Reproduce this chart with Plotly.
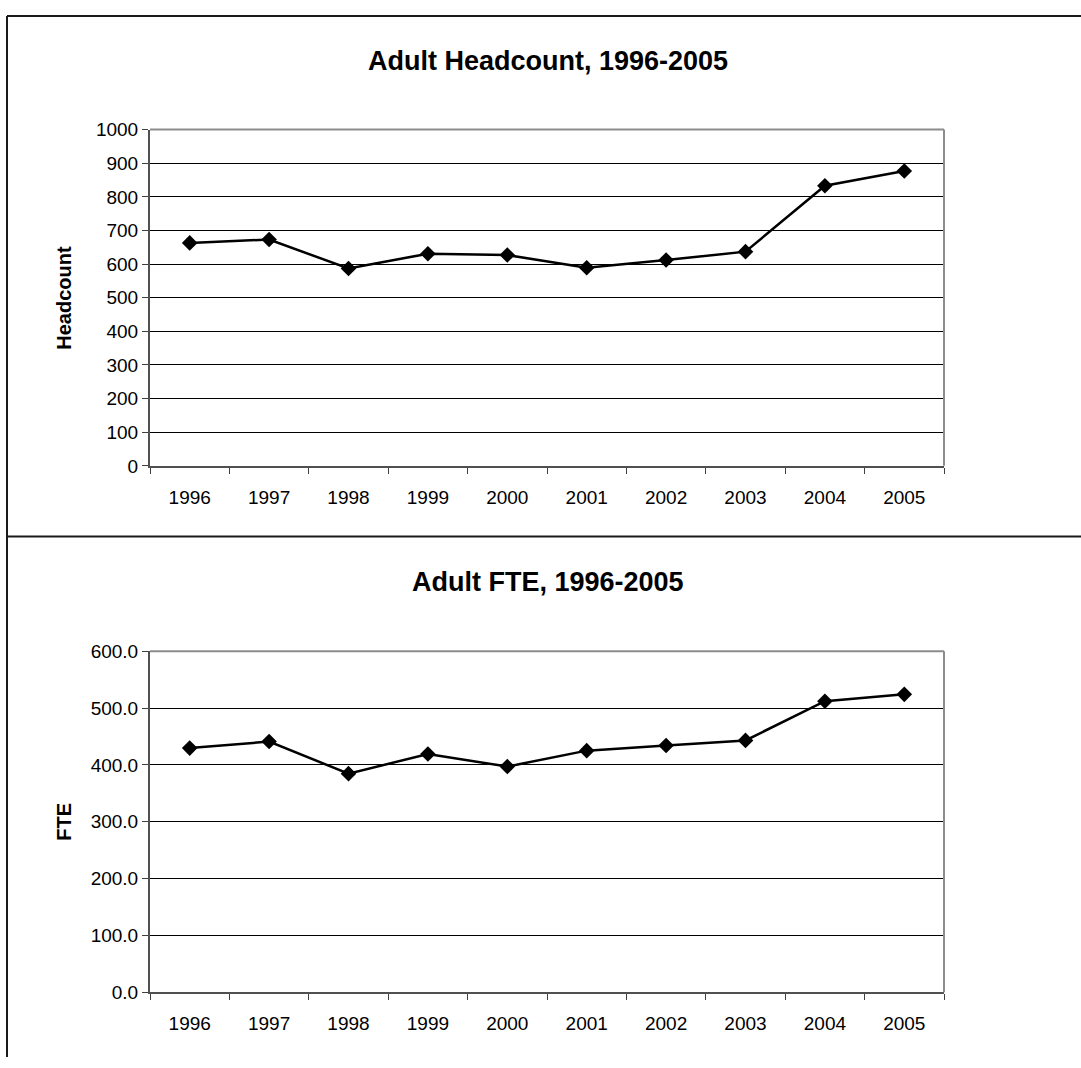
import plotly.graph_objects as go

# Adult library headcount and FTE by year
years = ["1996", "1997", "1998", "1999", "2000", "2001", "2002", "2003", "2004", "2005"]
headcount = [663, 673, 587, 631, 627, 589, 612, 637, 833, 877]
fte = [429.5, 441.0, 384.5, 419.0, 397.0, 425.0, 434.0, 443.0, 512.0, 524.0]

W, H = 1081, 1068
FONT = "Arial, Liberation Sans, sans-serif"


def px(x):
    return x / W


def py(y):
    return 1 - y / H


fig = go.Figure()

line_style = dict(color="black", width=2.5)
marker_style = dict(symbol="diamond", size=12, color="black")

fig.add_trace(go.Scatter(x=years, y=headcount, mode="lines+markers",
                         line=line_style, marker=marker_style,
                         xaxis="x", yaxis="y", showlegend=False))
fig.add_trace(go.Scatter(x=years, y=fte, mode="lines+markers",
                         line=line_style, marker=marker_style,
                         xaxis="x2", yaxis="y2", showlegend=False))

xaxis_common = dict(
    type="category", range=[-0.5, 9.5], tickson="boundaries",
    ticks="outside", ticklen=6, tickwidth=1, tickcolor="#404040",
    showline=True, linecolor="#505050", linewidth=2,
    showgrid=False, zeroline=False, ticklabelstandoff=13,
    tickfont=dict(family=FONT, size=19, color="black"),
)
yaxis_common = dict(
    ticks="outside", ticklen=6, tickwidth=1, tickcolor="#404040",
    showline=True, linecolor="#505050", linewidth=2,
    showgrid=True, gridcolor="black", gridwidth=1, zeroline=False,
    tickfont=dict(family=FONT, size=19, color="black"),
)

# plot areas (pixel edges)
top_box = (150, 944, 122, 465)
bot_box = (150, 944, 654, 1002)

fig.update_layout(
    width=W, height=H,
    margin=dict(l=0, r=0, t=0, b=0),
    paper_bgcolor="white", plot_bgcolor="white",
    xaxis=dict(domain=[px(top_box[0]), px(top_box[1])], anchor="y", **xaxis_common),
    yaxis=dict(domain=[py(top_box[3]), py(top_box[2])], anchor="x",
               range=[0, 1000], dtick=100, **yaxis_common),
    xaxis2=dict(domain=[px(bot_box[0]), px(bot_box[1])], anchor="y2", **xaxis_common),
    yaxis2=dict(domain=[py(bot_box[3]), py(bot_box[2])], anchor="x2",
                range=[0, 600], dtick=100, tickformat=".1f", **yaxis_common),
)

shapes = []
# grey top/right border of each plot area
for (l, r, t, b) in (top_box, bot_box):
    shapes.append(dict(type="line", xref="paper", yref="paper",
                       x0=px(l), x1=px(r), y0=py(t), y1=py(t),
                       line=dict(color="#8c8c8c", width=2)))
    shapes.append(dict(type="line", xref="paper", yref="paper",
                       x0=px(r), x1=px(r), y0=py(t), y1=py(b),
                       line=dict(color="#8c8c8c", width=2)))
# outer chart frames
frame = dict(color="#1a1a1a", width=2)
shapes.append(dict(type="line", xref="paper", yref="paper",
                   x0=px(7), x1=1, y0=py(6), y1=py(6), line=frame))
shapes.append(dict(type="line", xref="paper", yref="paper",
                   x0=px(7), x1=px(7), y0=py(6), y1=0, line=frame))
shapes.append(dict(type="line", xref="paper", yref="paper",
                   x0=px(7), x1=1, y0=py(537), y1=py(537), line=frame))
fig.update_layout(shapes=shapes)

annotations = [
    dict(text="<b>Adult Headcount, 1996-2005</b>", x=px(548), y=py(52)),
    dict(text="<b>Adult FTE, 1996-2005</b>", x=px(548), y=py(583)),
]
for a in annotations:
    a.update(xref="paper", yref="paper", showarrow=False,
             xanchor="center", yanchor="middle",
             font=dict(family=FONT, size=27, color="black"))

for text, yc in (("Headcount", (122 + 465) / 2), ("FTE", (654 + 1002) / 2)):
    annotations.append(dict(text=f"<b>{text}</b>", x=px(64), y=py(yc),
                            xref="paper", yref="paper", showarrow=False,
                            textangle=-90, xanchor="center", yanchor="middle",
                            font=dict(family=FONT, size=20, color="black")))
fig.update_layout(annotations=annotations)

fig.write_html("out.html")
